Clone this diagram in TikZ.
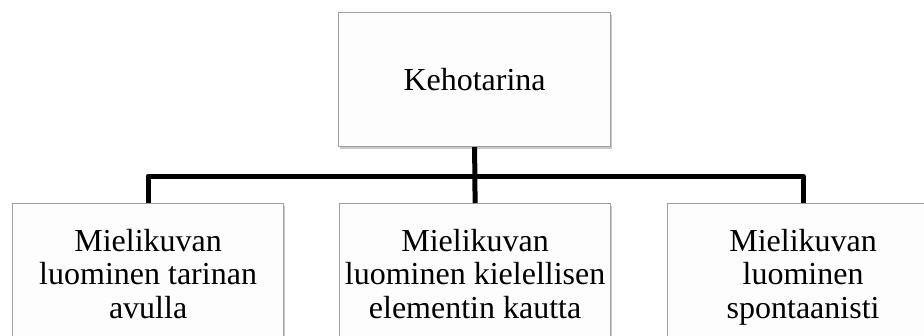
\documentclass[tikz,border=0pt]{standalone}
\usepackage{fontspec}
\setmainfont{Liberation Serif}
\usetikzlibrary{shadows}
\definecolor{boxedge}{HTML}{A0A0A0}
\definecolor{boxfill}{HTML}{FDFDFD}
\tikzset{
  box/.style={draw=boxedge, line width=1.2pt, fill=boxfill, inner sep=0pt,
    drop shadow={shadow xshift=1.5pt, shadow yshift=-2.5pt, opacity=0.35, fill=black!60}},
  topbox/.style={box, minimum width=272pt, minimum height=134pt, font=\fontsize{32}{36}\selectfont},
  lowbox/.style={box, minimum width=271pt, minimum height=150pt},
  lowtext/.style={inner sep=0pt, align=center, anchor=north, font=\fontsize{32}{33.5}\selectfont},
  conn/.style={line width=5pt, black, line join=round, line cap=butt}
}
\begin{document}
\begin{tikzpicture}[x=1pt,y=1pt]
\clip (0,0) rectangle (924,-335);
\fill[white] (0,0) rectangle (924,-335);
\coordinate (bus) at (0,-176);
\node[topbox, anchor=north west] (t) at (338,-12) {Kehotarina};
\node[lowbox, anchor=north west] (l) at (12,-203) {};
\node[lowbox, anchor=north west] (m) at (339,-203) {};
\node[lowbox, anchor=north west] (r) at (667,-203) {};
\node[lowtext] (lt) at ([yshift=-26pt]l.north) {Mielikuvan\\luominen tarinan\\avulla};
\node[lowtext] (mt) at ([yshift=-26pt]m.north) {Mielikuvan\\luominen kielellisen\\elementin kautta};
\node[lowtext] (rt) at ([yshift=-26pt]r.north) {Mielikuvan\\luominen\\spontaanisti};
\draw[conn] (t.south) -- (m.north);
\draw[conn] (l.north) -- (l.north |- bus) -- (r.north |- bus) -- (r.north);
\end{tikzpicture}
\end{document}
